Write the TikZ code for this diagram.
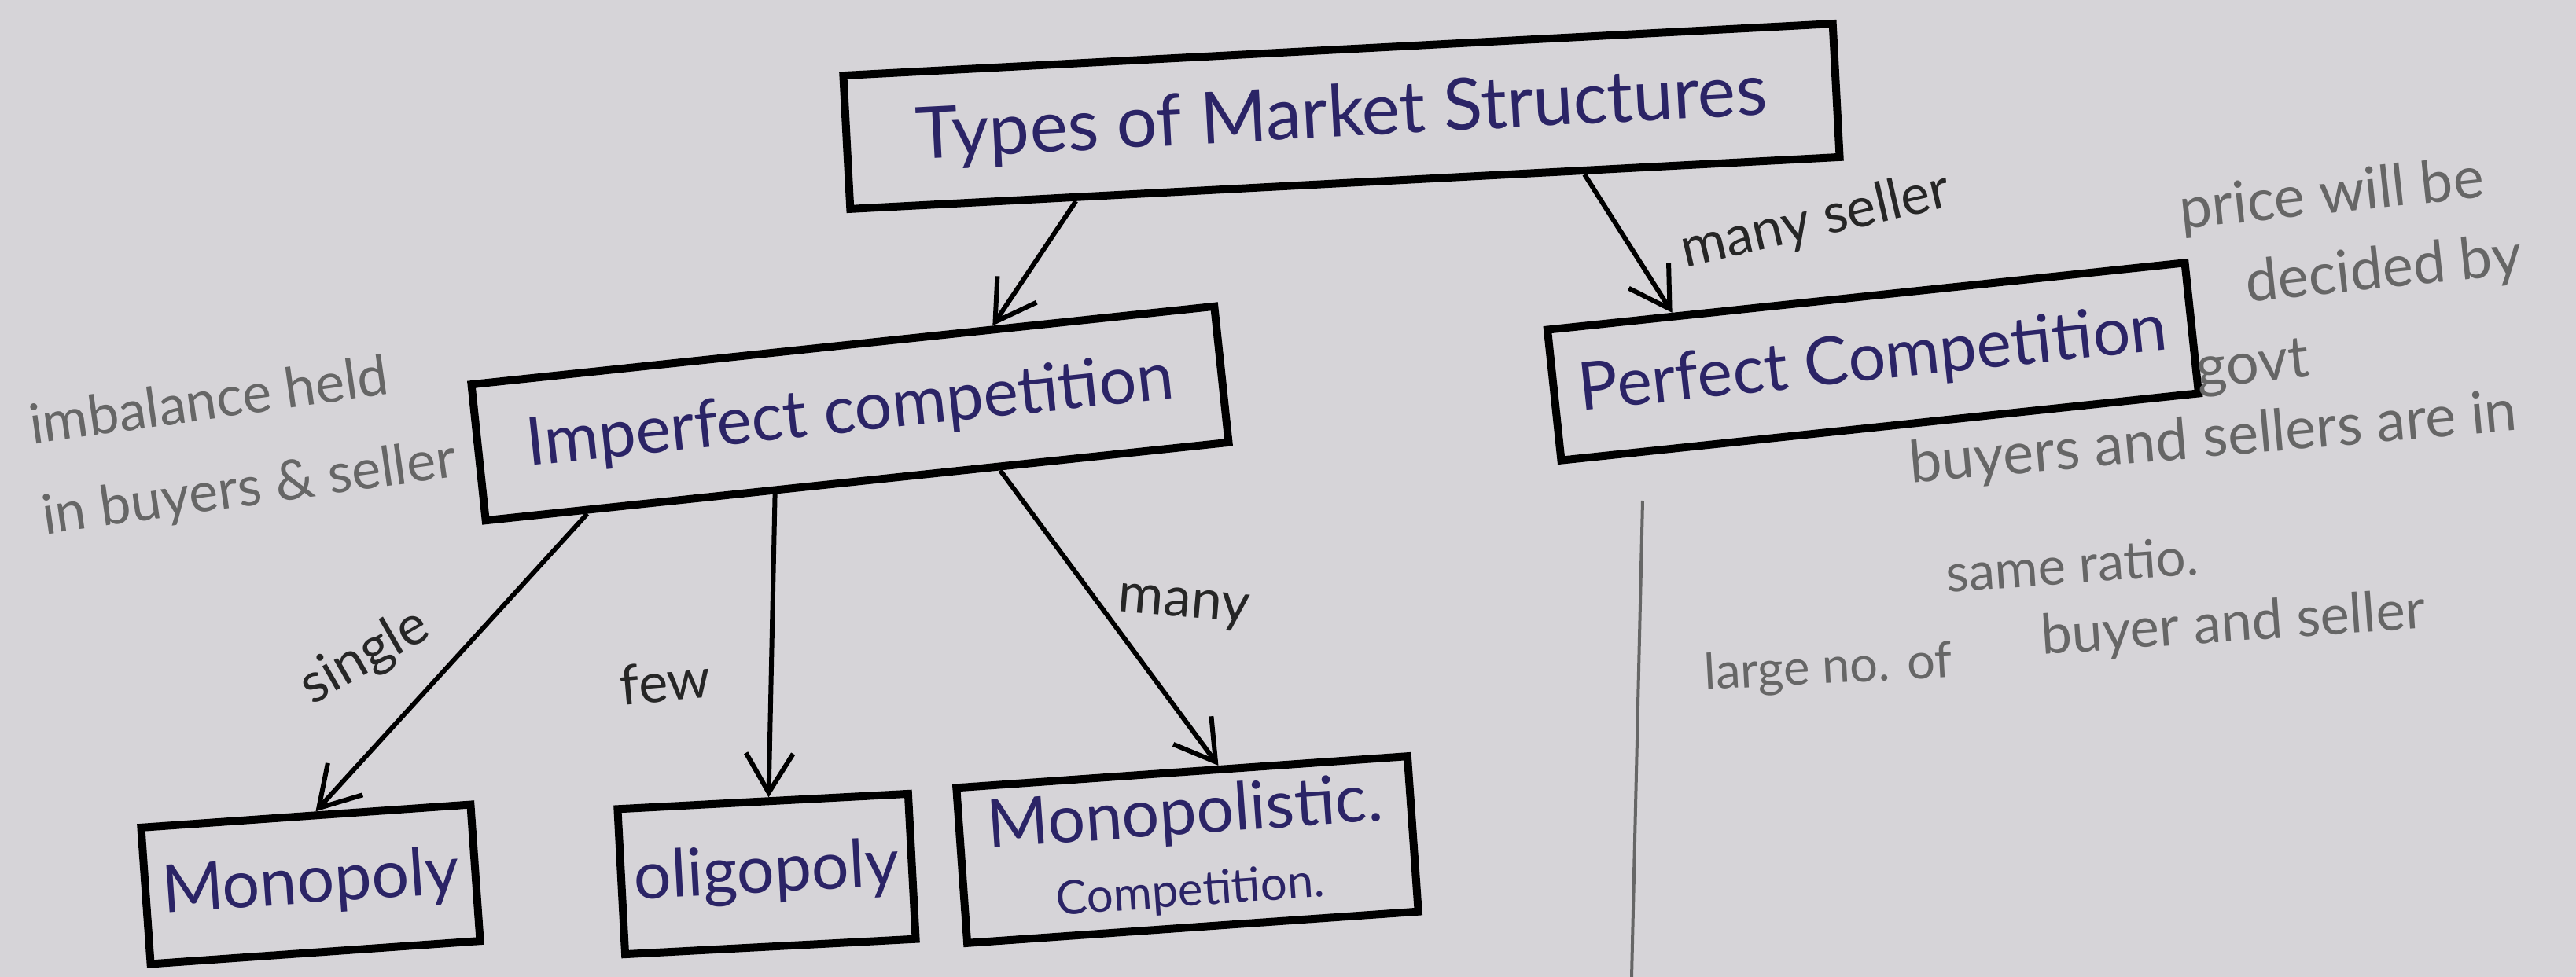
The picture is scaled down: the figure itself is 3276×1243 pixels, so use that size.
\documentclass[tikz,border=0pt]{standalone}
\usepackage{fontspec}
\setmainfont{Lato}
\usetikzlibrary{arrows.meta,
                calc,
                positioning}
\definecolor{paper}{HTML}{D6D4D8}
\definecolor{ink}{HTML}{2B2466}
\definecolor{pencil}{HTML}{666666}

\begin{document}
\begin{tikzpicture}[
x = 0.1mm, y = -0.1mm,
   box/.style = {rectangle, draw=black, line width=1mm,
                 inner sep=0pt, align=center, text=ink,
                 font=\fontsize{24}{26}\selectfont},
  link/.style = {line width=0.6mm,
                 -{Straight Barb[length=5mm,width=6mm,line width=0.6mm]}},
  note/.style = {text=pencil, align=left,
                 font=\fontsize{21}{24}\selectfont},
   tag/.style = {text=black!85, font=\fontsize{20}{22}\selectfont},
                        ]
\fill[paper] (0,0) rectangle (3276,1243);
\useasboundingbox (0,0) rectangle (3276,1243);
% boxes
\node[box, minimum width=126mm, minimum height=17mm, rotate=3,
      font=\fontsize{26}{28}\selectfont]
      (types) at (1706,148) {Types of Market Structures};
\node[box, minimum width=95mm, minimum height=17.4mm, rotate=6]
      (imperfect) at (1081,526) {Imperfect competition};
\node[box, minimum width=81.5mm, minimum height=16.7mm, rotate=6]
      (perfect) at (2382,460) {Perfect Competition};
\node[box, minimum width=42mm, minimum height=17.4mm, rotate=4]
      (monopoly) at (395,1125) {Monopoly};
\node[box, minimum width=37mm, minimum height=18.5mm, rotate=3]
      (oligopoly) at (975,1112) {oligopoly};
\node[box, minimum width=57.5mm, minimum height=19.8mm, rotate=4]
      (monopolistic) at (1510,1081)
      {Monopolistic.\\{\fontsize{17}{18}\selectfont Competition.}};
% arrows
\draw[link] ($(types.south west)!0.23!(types.south east)$)
         -- ($(imperfect.north west)!0.70!(imperfect.north east)$);
\draw[link] ($(types.south west)!0.74!(types.south east)$)
         -- ($(perfect.north west)!0.20!(perfect.north east)$);
\draw[link] ($(imperfect.south west)!0.14!(imperfect.south east)$)
         -- ($(monopoly.north west)!0.53!(monopoly.north east)$);
\draw[link] ($(imperfect.south west)!0.39!(imperfect.south east)$)
         -- ($(oligopoly.north west)!0.52!(oligopoly.north east)$);
\draw[link] ($(imperfect.south west)!0.69!(imperfect.south east)$)
         -- ($(monopolistic.north west)!0.58!(monopolistic.north east)$);
% arrow labels
\node[tag, rotate=13] (manyseller) at (2309,282) {many seller};
\node[tag, rotate=30] (single) at (464,836) {single};
\node[tag, rotate=5]  (few) at (846,867) {few};
\node[tag, rotate=-5] (many) at (1505,773) {many};
% pencil notes
\node[note, rotate=8, font=\fontsize{20}{33}\selectfont]
      (imbalance) at (309,566) {imbalance held\\in buyers \& seller};
\node[note, rotate=6, font=\fontsize{21}{29}\selectfont]
      (price) at (2995,350) {price will be\\\quad decided by\\govt};
\node[note, rotate=5] (ratio) at (2815,560) {buyers and sellers are in};
\node[note, rotate=4, font=\fontsize{19}{22}\selectfont]
      (same) at (2635,718) {same ratio.};
\node[note, rotate=3, font=\fontsize{18}{20}\selectfont]
      (large) at (2325,852) {large no. of};
\node[note, rotate=4, font=\fontsize{20}{22}\selectfont]
      (buyer) at (2840,796) {buyer and seller};
\draw[pencil, line width=0.4mm] (2089,637) -- (2075,1243);
\end{tikzpicture}
\end{document}
